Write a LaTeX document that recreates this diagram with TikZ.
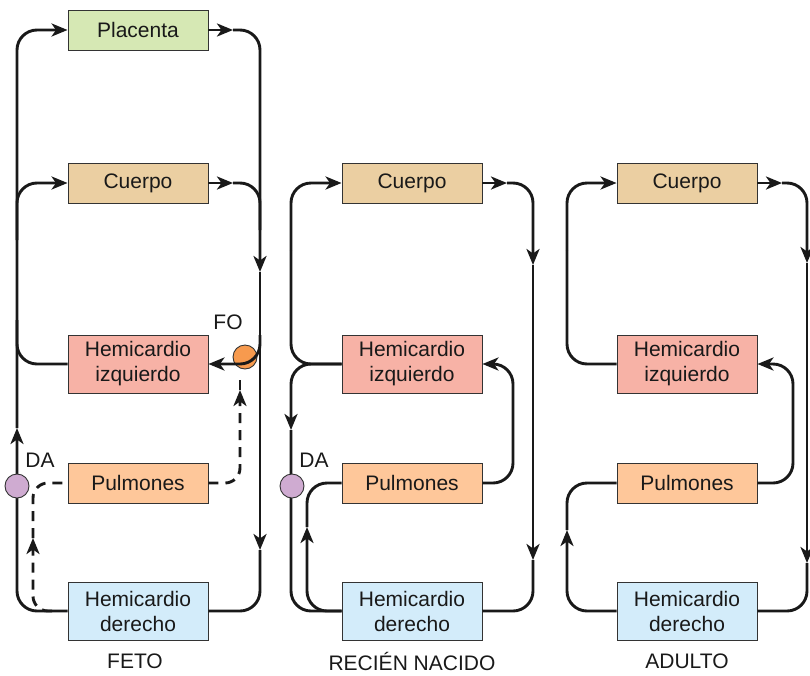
\documentclass[tikz,border=0pt]{standalone}
\usepackage{fontspec}
\setmainfont{Liberation Sans}
\usetikzlibrary{arrows.meta,positioning}

\definecolor{placenta}{RGB}{214,232,180}
\definecolor{cuerpo}{RGB}{235,207,162}
\definecolor{izq}{RGB}{247,178,166}
\definecolor{pulmon}{RGB}{254,199,154}
\definecolor{der}{RGB}{211,236,250}
\definecolor{foramen}{RGB}{247,154,78}
\definecolor{ductus}{RGB}{207,171,209}

\begin{document}
\begin{tikzpicture}[x=1pt,y=-1pt,
  organ/.style={shape=rectangle,draw=black!80,line width=0.9pt,minimum width=140pt,
    minimum height=40pt,inner sep=0pt,align=center,text=black!90,
    font=\fontsize{21}{25}\selectfont},
  tall/.style={minimum height=58pt},
  blood/.style={line width=2.9pt,rounded corners=20pt,draw=black!90},
  shuntline/.style={blood,rounded corners=15pt,dash pattern=on 10pt off 7pt},
  valve/.style={shape=circle,draw=black!80,line width=0.9pt,minimum size=24pt,inner sep=0pt},
  tag/.style={text=black!90,font=\fontsize{21}{25}\selectfont},
  >={Stealth[length=16pt,width=13pt,inset=4.5pt]}]
\useasboundingbox (0,0) rectangle (810,675);

% feto
\node[organ,fill=placenta] (P) at (138,30) {Placenta};
\node[organ,fill=cuerpo] (C1) at (138,183) {Cuerpo};
\node[organ,tall,fill=izq] (L1) at (138,364) {Hemicardio\\izquierdo};
\node[organ,fill=pulmon] (U1) at (138,483) {Pulmones};
\node[organ,tall,fill=der] (R1) at (138,611) {Hemicardio\\derecho};
\node[tag] (T1) at (135,661) {FETO};

\coordinate (fa) at (17,428);
\coordinate (fb) at (17,240);
\coordinate (fc) at (17,320);
\coordinate (fd) at (233,30);
\coordinate (fe) at (260,272);
\coordinate (ff) at (260,550);
\coordinate (fg) at (233,183);
\coordinate (fh) at (260,230);
\coordinate (fi) at (260,335);
\coordinate (fj) at (240,390);
\coordinate (fk) at (240,380);
\coordinate (fl) at (52,611);
\coordinate (fm) at (33,538);

\draw[blood,->] (R1.west) -| (fa);
\draw[blood,->] (fa) |- (P.west);
\draw[blood,->] (fb) |- (C1.west);
\draw[blood] (L1.west) -| (fc);
\draw[blood,->] (P.east) -- (fd);
\draw[blood,->] (fd) -| (fe);
\draw[blood,->] (fe) -- (ff);
\draw[blood] (ff) |- (R1.east);
\draw[blood,->] (C1.east) -- (fg);
\draw[blood] (fg) -| (fh);

\draw[shuntline,->] (U1.east) -| (fj);
\draw[shuntline] (fj) -- (fk);
\draw[shuntline,->] (fl) -| (fm);
\draw[shuntline] (fm) |- (U1.west);

\node[valve,fill=foramen] (FO) at (245,357) {};
\node[tag] (fo) at (228,322) {FO};
\draw[blood,->] (fi) |- (L1.east);
\node[valve,fill=ductus] (DA1) at (17,486) {};
\node[tag] (da1) at (40,460) {DA};

% recien nacido
\node[organ,fill=cuerpo] (C2) at (412,183) {Cuerpo};
\node[organ,tall,fill=izq] (L2) at (412,364) {Hemicardio\\izquierdo};
\node[organ,fill=pulmon] (U2) at (412,483) {Pulmones};
\node[organ,tall,fill=der] (R2) at (412,611) {Hemicardio\\derecho};
\node[tag] (T2) at (412,661) {RECIÉN NACIDO};

\coordinate (n1) at (291,250);
\coordinate (n2) at (291,430);
\coordinate (n3) at (307,527);
\coordinate (n4) at (513,420);
\coordinate (n5) at (507,183);
\coordinate (n6) at (533,265);
\coordinate (n7) at (533,560);

\draw[blood] (L2.west) -| (n1);
\draw[blood,->] (n1) |- (C2.west);
\draw[blood,->] (L2.west) -| (n2);
\draw[blood] (n2) |- (R2.west);
\draw[blood,->] (R2.west) -| (n3);
\draw[blood] (n3) |- (U2.west);
\draw[blood,->] (U2.east) -| (n4) |- (L2.east);
\draw[blood,->] (C2.east) -- (n5);
\draw[blood,->] (n5) -| (n6);
\draw[blood,->] (n6) -- (n7);
\draw[blood] (n7) |- (R2.east);

\node[valve,fill=ductus] (DA2) at (292,486) {};
\node[tag] (da2) at (314,460) {DA};

% adulto
\node[organ,fill=cuerpo] (C3) at (687,183) {Cuerpo};
\node[organ,tall,fill=izq] (L3) at (687,364) {Hemicardio\\izquierdo};
\node[organ,fill=pulmon] (U3) at (687,483) {Pulmones};
\node[organ,tall,fill=der] (R3) at (687,611) {Hemicardio\\derecho};
\node[tag] (T3) at (687,661) {ADULTO};

\coordinate (a1) at (567,250);
\coordinate (a2) at (567,530);
\coordinate (a3) at (793,420);
\coordinate (a4) at (782,183);
\coordinate (a5) at (807,263);
\coordinate (a6) at (807,563);

\draw[blood] (L3.west) -| (a1);
\draw[blood,->] (a1) |- (C3.west);
\draw[blood,->] (R3.west) -| (a2);
\draw[blood] (a2) |- (U3.west);
\draw[blood,->] (U3.east) -| (a3) |- (L3.east);
\draw[blood,->] (C3.east) -- (a4);
\draw[blood,->] (a4) -| (a5);
\draw[blood,->] (a5) -- (a6);
\draw[blood] (a6) |- (R3.east);
\end{tikzpicture}
\end{document}
